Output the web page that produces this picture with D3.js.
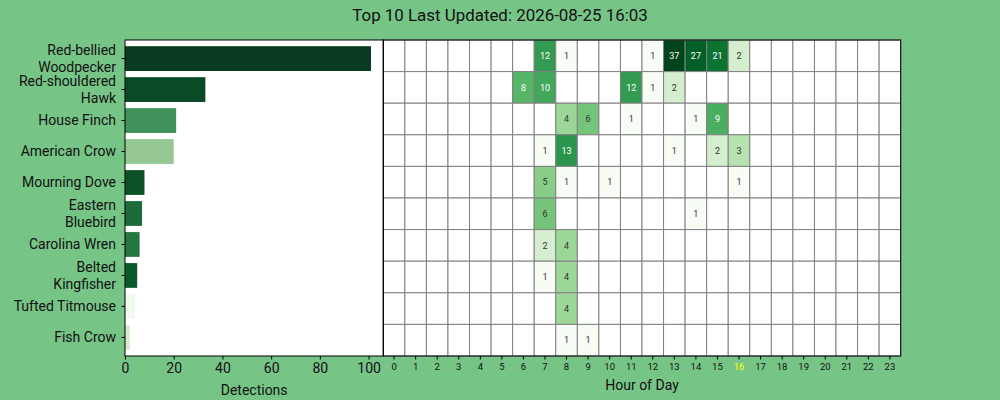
<!DOCTYPE html>
<html>
<head>
<meta charset="utf-8">
<script src="https://cdn.jsdelivr.net/npm/d3@7"></script>
<style>
  body { margin: 0; background: #77C487; }
  text { font-family: Roboto, "DejaVu Sans", sans-serif; }
</style>
</head>
<body>
<div id="chart"></div>
<script>
var title = "Top 10 Last Updated: 2026-08-25 16:03";
var currentHour = 16;

var species = [
    ["Red-bellied", "Woodpecker"],
    ["Red-shouldered", "Hawk"],
    ["House Finch"],
    ["American Crow"],
    ["Mourning Dove"],
    ["Eastern", "Bluebird"],
    ["Carolina Wren"],
    ["Belted", "Kingfisher"],
    ["Tufted Titmouse"],
    ["Fish Crow"]
];

var hours = d3.range(0, 24);

// detections per hour, one row per species (hours 0..23)
var hourly = [
    [0,0,0,0,0,0,0,12,1,0,0,0,1,37,27,21,2,0,0,0,0,0,0,0],
    [0,0,0,0,0,0,8,10,0,0,0,12,1,2,0,0,0,0,0,0,0,0,0,0],
    [0,0,0,0,0,0,0,0,4,6,0,1,0,0,1,9,0,0,0,0,0,0,0,0],
    [0,0,0,0,0,0,0,1,13,0,0,0,0,1,0,2,3,0,0,0,0,0,0,0],
    [0,0,0,0,0,0,0,5,1,0,1,0,0,0,0,0,1,0,0,0,0,0,0,0],
    [0,0,0,0,0,0,0,6,0,0,0,0,0,0,1,0,0,0,0,0,0,0,0,0],
    [0,0,0,0,0,0,0,2,4,0,0,0,0,0,0,0,0,0,0,0,0,0,0,0],
    [0,0,0,0,0,0,0,1,4,0,0,0,0,0,0,0,0,0,0,0,0,0,0,0],
    [0,0,0,0,0,0,0,0,4,0,0,0,0,0,0,0,0,0,0,0,0,0,0,0],
    [0,0,0,0,0,0,0,0,1,1,0,0,0,0,0,0,0,0,0,0,0,0,0,0]
];

var detectionTicks = [0, 20, 40, 60, 80, 100];

// bar fill per species (confidence shading)
var barColors = ["#0a3a1f", "#0b4a26", "#40935a", "#95c794", "#0b5227",
                 "#1d6b3b", "#237842", "#0b5a2c", "#f2f9f0", "#d6ebd0"];

var totals = hourly.map(function(r) { return d3.sum(r); });

var W = 1000, H = 400;
var plotTop = 40, plotBottom = 356;
var barLeft = 125, split = 383.3, heatRight = 900.7;

var svg = d3.select("#chart")
    .append("svg")
    .attr("width", W)
    .attr("height", H);

svg.append("text")
    .attr("x", 500)
    .attr("y", 21)
    .attr("text-anchor", "middle")
    .style("font-size", "16.9px")
    .style("fill", "#111")
    .text(title);

var idx = d3.range(species.length);

// Detections bar chart
var y = d3.scaleBand()
    .domain(idx)
    .range([plotTop, plotBottom])
    .padding(0.2);
var x = d3.scaleLinear()
    .domain([0, d3.max(totals) * 1.05])
    .range([barLeft, split]);

svg.append("rect")
    .attr("x", barLeft).attr("y", plotTop)
    .attr("width", split - barLeft).attr("height", plotBottom - plotTop)
    .attr("fill", "white");

svg.append("g")
    .selectAll("rect")
    .data(idx)
    .enter()
    .append("rect")
    .attr("x", x(0))
    .attr("y", function(i) { return y(i); })
    .attr("width", function(i) { return x(totals[i]) - x(0); })
    .attr("height", y.bandwidth())
    .attr("fill", function(i) { return barColors[i]; });

var xAxis = svg.append("g")
    .attr("transform", "translate(0," + plotBottom + ")")
    .call(d3.axisBottom(x).tickValues(detectionTicks).tickSize(3.5).tickPadding(3.5));
xAxis.select(".domain").remove();
xAxis.selectAll("text").style("font-size", "14px").style("fill", "#111");

var yAxis = svg.append("g")
    .attr("transform", "translate(" + barLeft + ",0)")
    .call(d3.axisLeft(y).tickSize(3.5).tickFormat(""));
yAxis.select(".domain").remove();

// species labels, wrapped onto two lines where long
svg.append("g")
    .selectAll("text")
    .data(idx)
    .enter()
    .append("text")
    .attr("text-anchor", "end")
    .style("font-size", "14px")
    .style("fill", "#111")
    .each(function(i) {
        var lines = species[i];
        var cy = y(i) + y.bandwidth() / 2;
        var t = d3.select(this);
        lines.forEach(function(l, k) {
            t.append("tspan")
                .attr("x", barLeft - 9)
                .attr("y", cy + (k - (lines.length - 1) / 2) * 16.5)
                .attr("dy", "0.35em")
                .text(l);
        });
    });

svg.append("text")
    .attr("x", (barLeft + split) / 2)
    .attr("y", 395)
    .attr("text-anchor", "middle")
    .style("font-size", "14px")
    .style("fill", "#111")
    .text("Detections");

// Hour of day heatmap
var hx = d3.scaleBand()
    .domain(hours)
    .range([split, heatRight]);
var hy = d3.scaleBand()
    .domain(idx)
    .range([plotTop, plotBottom]);
var maxCount = d3.max(hourly, function(r) { return d3.max(r); });
var color = d3.scaleSequentialLog(d3.interpolateGreens).domain([1, maxCount]);
var norm = d3.scaleLog().domain([1, maxCount]);

var cells = [];
hourly.forEach(function(r, i) {
    r.forEach(function(v, h) { cells.push({row: i, hour: h, value: v}); });
});

svg.append("rect")
    .attr("x", split).attr("y", plotTop)
    .attr("width", heatRight - split).attr("height", plotBottom - plotTop)
    .attr("fill", "white");

svg.append("g")
    .selectAll("rect")
    .data(cells)
    .enter()
    .append("rect")
    .attr("x", function(d) { return hx(d.hour); })
    .attr("y", function(d) { return hy(d.row); })
    .attr("width", hx.bandwidth())
    .attr("height", hy.bandwidth())
    .attr("fill", function(d) { return d.value > 0 ? color(d.value) : "white"; })
    .attr("stroke", "#808080")
    .attr("stroke-width", 1);

svg.append("g")
    .selectAll("text")
    .data(cells.filter(function(d) { return d.value > 0; }))
    .enter()
    .append("text")
    .attr("x", function(d) { return hx(d.hour) + hx.bandwidth() / 2; })
    .attr("y", function(d) { return hy(d.row) + hy.bandwidth() / 2; })
    .attr("dy", "0.35em")
    .attr("text-anchor", "middle")
    .style("font-size", "9px")
    .style("fill", function(d) { return norm(d.value) > 0.5 ? "white" : "#333"; })
    .text(function(d) { return d.value; });

var hAxis = svg.append("g")
    .attr("transform", "translate(0," + plotBottom + ")")
    .call(d3.axisBottom(hx).tickSize(3.5).tickPadding(4));
hAxis.select(".domain").remove();
hAxis.selectAll("text")
    .style("font-size", "9.5px")
    .style("fill", function(h) { return h === currentHour ? "yellow" : "#111"; });

svg.append("text")
    .attr("x", (split + heatRight) / 2)
    .attr("y", 390)
    .attr("text-anchor", "middle")
    .style("font-size", "14px")
    .style("fill", "#111")
    .text("Hour of Day");

// axes frames
[[barLeft, split], [split, heatRight]].forEach(function(p) {
    svg.append("rect")
        .attr("x", p[0]).attr("y", plotTop)
        .attr("width", p[1] - p[0]).attr("height", plotBottom - plotTop)
        .attr("fill", "none")
        .attr("stroke", "black")
        .attr("stroke-width", 1);
});
</script>
</body>
</html>
